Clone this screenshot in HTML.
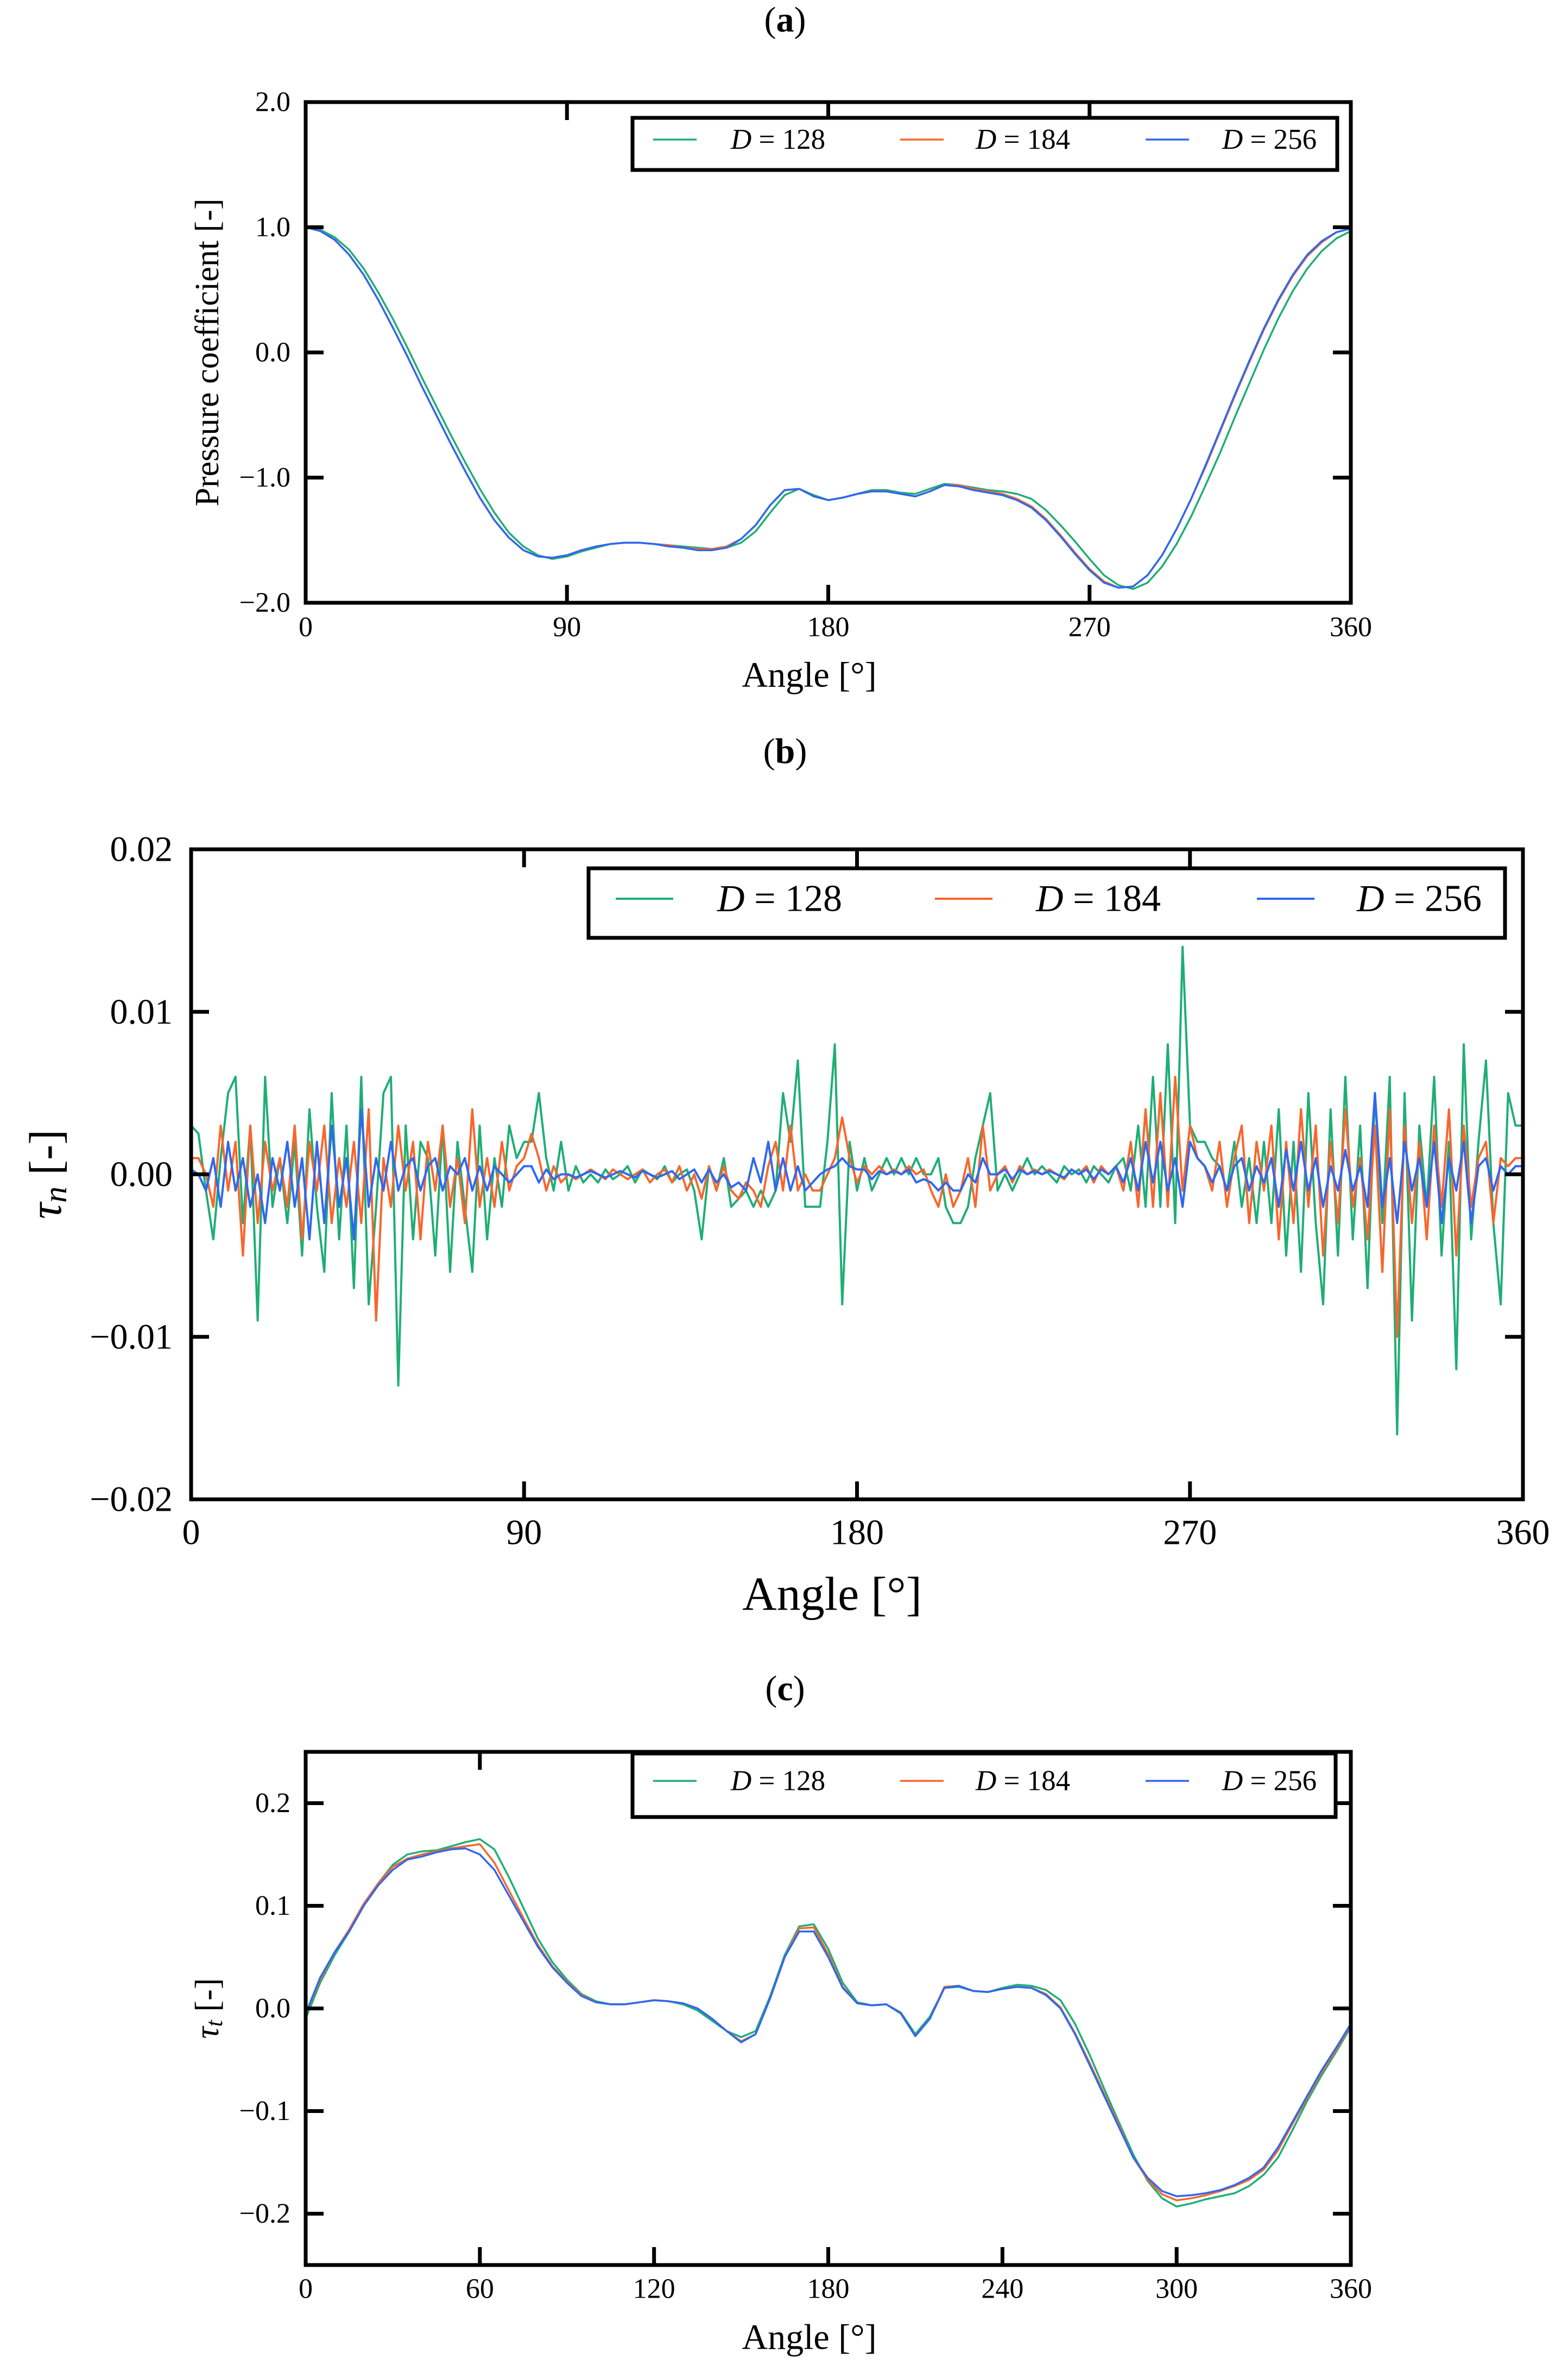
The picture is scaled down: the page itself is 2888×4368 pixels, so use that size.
<!DOCTYPE html>
<html><head><meta charset="utf-8"><style>
html,body{margin:0;padding:0;background:#fff}
svg{display:block}
text{font-family:"Liberation Serif",serif;fill:#000}
</style></head><body>
<svg id="fig" width="2888" height="4368" viewBox="0 0 2888 4368" xmlns="http://www.w3.org/2000/svg"></svg>
<script>
// ---------- DATA ----------
const seriesNames = ["D = 128", "D = 184", "D = 256"];
// Panel (a): pressure coefficient at 5° steps (0..360)
const cpAngles = Array.from({length:73},(_,i)=>i*5);
const cp128 = [1.0,0.98,0.92,0.82,0.67,0.48,0.27,0.04,-0.2,-0.43,-0.66,-0.88,-1.09,-1.28,-1.44,-1.55,-1.62,-1.65,-1.63,-1.59,-1.56,-1.53,-1.52,-1.52,-1.53,-1.54,-1.55,-1.56,-1.57,-1.56,-1.52,-1.43,-1.28,-1.14,-1.09,-1.14,-1.18,-1.16,-1.13,-1.1,-1.1,-1.12,-1.13,-1.09,-1.05,-1.06,-1.08,-1.1,-1.11,-1.13,-1.17,-1.26,-1.38,-1.51,-1.65,-1.78,-1.86,-1.89,-1.84,-1.71,-1.53,-1.31,-1.06,-0.8,-0.52,-0.25,0.02,0.27,0.49,0.67,0.81,0.91,0.97];
const cp184 = [1.0,0.97,0.9,0.78,0.62,0.42,0.2,-0.03,-0.27,-0.5,-0.73,-0.95,-1.16,-1.34,-1.48,-1.58,-1.63,-1.64,-1.62,-1.58,-1.55,-1.53,-1.52,-1.52,-1.53,-1.54,-1.56,-1.57,-1.57,-1.55,-1.49,-1.38,-1.22,-1.1,-1.09,-1.15,-1.18,-1.16,-1.13,-1.11,-1.11,-1.13,-1.15,-1.11,-1.06,-1.06,-1.09,-1.11,-1.13,-1.17,-1.23,-1.33,-1.46,-1.6,-1.73,-1.83,-1.88,-1.87,-1.78,-1.62,-1.41,-1.17,-0.91,-0.63,-0.35,-0.08,0.18,0.41,0.61,0.77,0.88,0.96,0.99];
const cp256 = [1.0,0.97,0.9,0.78,0.62,0.42,0.2,-0.03,-0.27,-0.5,-0.73,-0.95,-1.16,-1.34,-1.48,-1.58,-1.63,-1.64,-1.62,-1.58,-1.55,-1.53,-1.52,-1.52,-1.53,-1.55,-1.56,-1.58,-1.58,-1.56,-1.49,-1.38,-1.22,-1.1,-1.09,-1.15,-1.18,-1.16,-1.13,-1.11,-1.11,-1.13,-1.15,-1.11,-1.06,-1.07,-1.1,-1.12,-1.14,-1.18,-1.24,-1.34,-1.47,-1.61,-1.74,-1.84,-1.88,-1.87,-1.78,-1.62,-1.41,-1.17,-0.9,-0.62,-0.34,-0.07,0.19,0.42,0.62,0.78,0.89,0.96,0.99];
// Panel (b): normal stress (x1e-3) at 2° steps (0..360)
const tnAngles = Array.from({length:181},(_,i)=>i*2);
const tn128 = [3,2.5,-1,-4,1,5,6,-3,3,-9,6,-2,1,-3,2,-5,4,-2,-6,5,-4,3,-7,6,-8,-2,5,6,-13,3,-4,2,1,-5,3,-6,2,-2,-6,3,-4,1,-2,3,1,2,
 2,5,1,-1,2,-1,0.5,-0.5,0,-0.5,0.3,-0.3,0,0.5,-0.5,0.3,0,-0.3,0.5,-0.5,0,0.3,-1,-4,0.5,-1,1,-2,-1.5,-1,
 -2,-1,-2,-1,5,2,7,-2,-2,-2,2,8,-8,2,-1,
 1,-1,0,1,0,1,0,1,0,
 0,1,-2,-3,-3,-2,1,3,5,
 -1,0,-1,0,1,0,0.5,
 0,-0.5,0.5,0,0.3,-0.5,0.5,0,-0.5,0.5,1,-1,
 3,-2,6,-2,8,-3,14,3,2,
 2,1,0.5,-1,2,-2,1,-3,2,
 -3,4,-5,2,-6,5,-3,-8,4,-5,6,-4,3,-7,5,-3,6,-16,5,-9,
 3,-2,6,-5,2,-12,8,-4,2,7,-3,-8,5,3,3];
const tn184 = [1,1,0,-2,3,-1,2,-5,3,-3,2,-1,1,-2,3,-4,2,-1,3,-3,1,-2,2,-3,4,-9,1,-2,3,-1,2,-4,2,-1,3,-2,1,-3,4,-2,1,-2,2,-1,0.5,1,
 2.5,1,-1,0.5,-0.5,0,-0.3,0,0.3,0,-0.3,0.3,0,-0.3,0,0.3,-0.5,0,0.3,-0.5,0.5,-1,0,-1.5,0.5,-1,0.5,-1,-1.5,-0.5,
 -1,-2,0.5,2,-1,3,-1,0,-1,-1,0,1,3.5,1,-0.5,
 0.5,0,0.5,0,0.3,0,0.5,0,0.3,
 -1,-2,0,-2,-1,1,-2,3,-1,
 0,0.5,-0.5,0.5,0,0.3,0,
 0.3,0,-0.3,0.3,0,0.5,-0.5,0.5,0,0.5,-1,2,
 -2,4,-2,5,-2,6,-1,3,1,
 0.5,-1,2,-2,1,3,-3,2,-1,
 3,-4,2,-3,4,-2,3,-5,2,-3,4,-2,1,-4,3,-6,4,-10,3,-3,
 2,-4,3,-2,4,-5,3,-2,1,2,-3,1,0.5,1,1];
const tn256 = [0.3,0,-1,1,-2,2,-1,1,-2,0,-3,1,-1,2,-2,1,-4,2,-3,3,-2,1,-4,4,-2,1,-1,2,-1,0.5,1,-1,0.5,1,-1,0.5,0,1,-1,0.5,-1,0.5,0,-0.5,0,0.5,
 0.5,-0.5,0.3,-0.3,0,0,-0.2,0,0.2,0,-0.2,0,0.2,0,-0.2,0.2,0,-0.2,0,0.2,-0.3,0,0.3,-0.5,0.3,-0.5,0,-0.8,-0.5,-1,
 1,-0.5,2,-1,1,-1,0.5,-1,-0.5,0,0.3,0.5,1,0.5,0.3,
 0.3,-0.3,0.2,0,0.2,0,0.3,-0.5,-0.3,
 -0.5,-1,-0.5,-1,-1,0,-0.5,1,0,
 0,0.3,-0.3,0.3,0,0.2,0,
 0.2,0,-0.2,0.3,0,0.3,-0.3,0.3,0,0.5,-0.5,1,
 -1,2,-0.5,2,-1,1,-2,2,1,
 0.5,-0.5,0.5,-1,0.5,1,-1,0.5,-0.5,
 1,-2,1.5,-1,2,-1,1,-2,0.5,-1,1.5,-1,0.5,-2,5,-2,1,-3,2,-1,
 1,-2,2,-3,1,-1,2,-3,0.5,1,-1,0.5,0,0.5,0.5];
// Panel (c): tangential stress at 5° steps
const ttAngles = Array.from({length:73},(_,i)=>i*5);
const tt128 = [-0.01,0.025,0.052,0.075,0.1,0.122,0.14,0.15,0.153,0.154,0.158,0.162,0.165,0.155,0.128,0.098,0.068,0.045,0.028,0.014,0.007,0.004,0.004,0.006,0.008,0.007,0.004,-0.002,-0.012,-0.022,-0.028,-0.022,0.012,0.052,0.08,0.082,0.058,0.025,0.006,0.003,0.004,-0.004,-0.025,-0.008,0.02,0.021,0.017,0.016,0.02,0.023,0.022,0.018,0.008,-0.015,-0.045,-0.078,-0.11,-0.142,-0.168,-0.185,-0.193,-0.19,-0.186,-0.183,-0.18,-0.173,-0.162,-0.145,-0.118,-0.09,-0.065,-0.042,-0.018];
const tt184 = [-0.005,0.028,0.055,0.077,0.102,0.122,0.138,0.146,0.15,0.153,0.156,0.158,0.16,0.142,0.115,0.088,0.062,0.041,0.026,0.013,0.006,0.004,0.004,0.006,0.008,0.007,0.005,0,-0.01,-0.022,-0.032,-0.025,0.01,0.05,0.078,0.079,0.053,0.021,0.005,0.003,0.004,-0.005,-0.027,-0.01,0.021,0.022,0.017,0.016,0.019,0.021,0.02,0.014,0.001,-0.024,-0.053,-0.083,-0.113,-0.145,-0.167,-0.181,-0.187,-0.185,-0.182,-0.178,-0.173,-0.167,-0.157,-0.138,-0.112,-0.087,-0.062,-0.04,-0.016];
const tt256 = [-0.005,0.03,0.055,0.075,0.1,0.12,0.135,0.145,0.148,0.152,0.155,0.156,0.15,0.135,0.11,0.085,0.06,0.04,0.025,0.012,0.006,0.004,0.004,0.006,0.008,0.007,0.005,0,-0.01,-0.022,-0.033,-0.025,0.01,0.05,0.075,0.075,0.05,0.02,0.005,0.003,0.004,-0.005,-0.027,-0.01,0.02,0.022,0.017,0.016,0.019,0.021,0.02,0.013,0,-0.025,-0.055,-0.085,-0.115,-0.145,-0.165,-0.178,-0.183,-0.182,-0.18,-0.177,-0.172,-0.165,-0.155,-0.135,-0.11,-0.085,-0.06,-0.038,-0.015];

// ---------- DRAWING ----------
const NS="http://www.w3.org/2000/svg";
const svg=document.getElementById('fig');
const colors=["#1fae75","#f8662c","#2f68ef"];
function el(tag,attrs,parent){const e=document.createElementNS(NS,tag);for(const k in attrs)e.setAttribute(k,attrs[k]);(parent||svg).appendChild(e);return e;}
function txt(s,attrs,parent){const t=el('text',attrs,parent);t.textContent=s;return t;}

function panel(cfg){
  const g=el('g',{});
  
  
  const {L,R,T,B,xmin,xmax,ymin,ymax}=cfg;
  const sx=v=>L+(v-xmin)/(xmax-xmin)*(R-L);
  const sy=v=>B-(v-ymin)/(ymax-ymin)*(B-T);
  const tt=txt('',{x:1446,y:cfg.titleY,'font-size':66,'text-anchor':'middle'},g);
  
  
  tt.innerHTML='(<tspan font-weight="bold">'+cfg.letter+'</tspan>)';
  const clip=el('clipPath',{id:'clip'+cfg.letter},g);
  el('rect',{x:L,y:T,width:R-L,height:B-T},clip);
  cfg.series.forEach((vals,si)=>{
    const d=vals.map((v,i)=>(i?'L':'M')+sx(cfg.xs[i]).toFixed(1)+','+sy(v*cfg.yscale).toFixed(1)).join('');
    const p=el('path',{d:d,fill:'none',stroke:colors[si],'stroke-width':cfg.lw,'stroke-linejoin':'round','clip-path':'url(#clip'+cfg.letter+')'},g);
    
    
  });
  const tl=33,tw=7;
  cfg.xticks.forEach(v=>{
    const x=sx(v);
    el('line',{x1:x,y1:B,x2:x,y2:B-tl,stroke:'#000','stroke-width':tw},g);
    el('line',{x1:x,y1:T,x2:x,y2:T+tl,stroke:'#000','stroke-width':tw},g);
    const t=txt(String(v),{x:x,y:cfg.xlabY,'font-size':cfg.tfs,'text-anchor':'middle','dominant-baseline':'central'},g);
    
    
  });
  cfg.yticks.forEach((v,i)=>{
    const y=sy(v);
    el('line',{x1:L,y1:y,x2:L+tl,y2:y,stroke:'#000','stroke-width':tw},g);
    el('line',{x1:R,y1:y,x2:R-tl,y2:y,stroke:'#000','stroke-width':tw},g);
    const t=txt(cfg.ylabels[i],{x:cfg.ylabX,y:y,'font-size':cfg.tfs,'text-anchor':'end','dominant-baseline':'central'},g);
    
    
  });
  const fr=el('rect',{x:L,y:T,width:R-L,height:B-T,fill:'none',stroke:'#000','stroke-width':7},g);
  
  
  const xl=txt('Angle [°]',{x:(L+R)/2+cfg.xtDx,y:cfg.xtitleY,'font-size':cfg.xtfs,'text-anchor':'middle','dominant-baseline':'central'},g);
  
  
  const yl=txt('',{x:0,y:0,'font-size':cfg.ytfs,'text-anchor':'middle','dominant-baseline':'central',transform:'translate('+cfg.ytitleX+','+(T+B)/2+') rotate(-90)'},g);
  
  
  yl.innerHTML=cfg.ytitle;
  const lg=el('g',{},g);
  
  
  const lb=cfg.leg;
  el('rect',{x:lb.x,y:lb.y,width:lb.w,height:lb.h,fill:'#fff',stroke:'#000','stroke-width':7},lg);
  const cy=lb.y+lb.h/2+lb.dy;
  seriesNames.forEach((n,i)=>{
    const e=el('g',{},lg);
    
    
    el('line',{x1:lb.lx[i],y1:cy,x2:lb.lx[i]+lb.ll,y2:cy,stroke:colors[i],'stroke-width':cfg.lw},e);
    const t=txt('',{x:lb.tx[i],y:cy,'font-size':lb.fs,'dominant-baseline':'central'},e);
    t.innerHTML='<tspan font-style="italic">D</tspan> = '+n.split('= ')[1];
  });
}

panel({name:'panel-a-pressure',letter:'a',L:563,R:2488,T:188,B:1110,xmin:0,xmax:360,ymin:-2,ymax:2,
  titleY:58,xs:cpAngles,series:[cp128,cp184,cp256],yscale:1,lw:3.5,
  xticks:[0,90,180,270,360],yticks:[-2,-1,0,1,2],ylabels:['−2.0','−1.0','0.0','1.0','2.0'],
  tfs:52,xlabY:1155,ylabX:535,xtitleY:1243,xtfs:66,xtDx:-35,ytitleX:382,ytfs:62,ytitle:'Pressure coefficient [-]',
  leg:{x:1165,y:217,w:1298,h:96,dy:-8,lx:[1203,1658,2110],ll:80,tx:[1346,1797,2251],fs:53}});
panel({name:'panel-b-normal-stress',letter:'b',L:352,R:2805,T:1564,B:2761,xmin:0,xmax:360,ymin:-0.02,ymax:0.02,
  titleY:1405,xs:tnAngles,series:[tn128,tn184,tn256],yscale:0.001,lw:4,
  xticks:[0,90,180,270,360],yticks:[-0.02,-0.01,0,0.01,0.02],ylabels:['−0.02','−0.01','0.00','0.01','0.02'],
  tfs:66,xlabY:2822,ylabX:318,xtitleY:2936,xtfs:88,xtDx:-46,ytitleX:84,ytfs:84,ytitle:'<tspan font-style="italic">τ</tspan><tspan font-style="italic" font-size="60" dy="18">n</tspan><tspan dy="-18"> [-]</tspan>',
  leg:{x:1084,y:1599,w:1688,h:128,dy:-8,lx:[1134,1722,2315],ll:106,tx:[1321,1908,2499],fs:70}});
panel({name:'panel-c-tangential-stress',letter:'c',L:563,R:2488,T:3226,B:4171,xmin:0,xmax:360,ymin:-0.25,ymax:0.25,
  titleY:3131,xs:ttAngles,series:[tt128,tt184,tt256],yscale:1,lw:3.5,
  xticks:[0,60,120,180,240,300,360],yticks:[-0.2,-0.1,0,0.1,0.2],ylabels:['−0.2','−0.1','0.0','0.1','0.2'],
  tfs:52,xlabY:4215,ylabX:535,xtitleY:4304,xtfs:66,xtDx:-35,ytitleX:382,ytfs:62,ytitle:'<tspan font-style="italic">τ</tspan><tspan font-style="italic" font-size="44" dy="12">t</tspan><tspan dy="-12"> [-]</tspan>',
  leg:{x:1165,y:3229,w:1295,h:117,dy:-8,lx:[1203,1658,2110],ll:80,tx:[1346,1797,2251],fs:53}});
</script>
</body></html>
